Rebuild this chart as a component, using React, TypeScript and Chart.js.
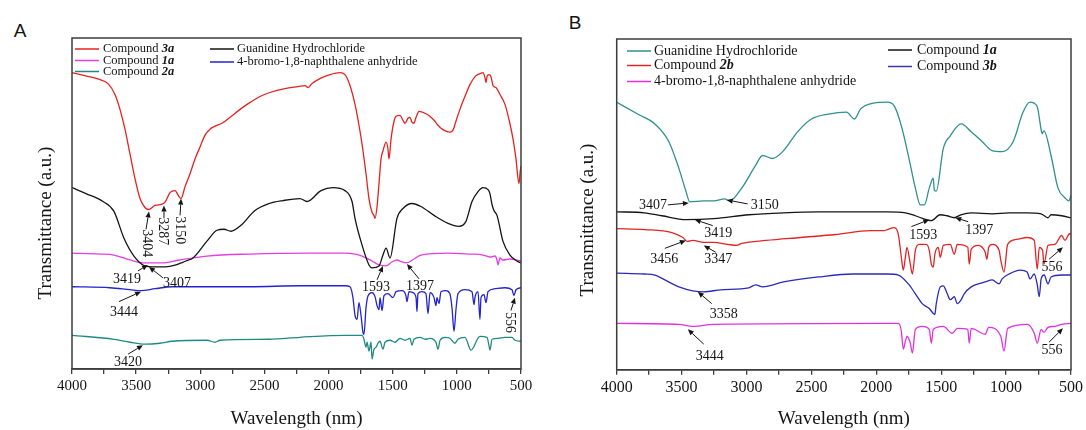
import React, { useEffect, useRef } from 'react';
import { Chart, registerables } from 'chart.js';

Chart.register(...registerables);

const SERIF = "'Liberation Serif', 'Times New Roman', Times, serif";
const SANS = "'Liberation Sans', Arial, Helvetica, sans-serif";

// ---------------- Panel A data (wavenumber, transmittance a.u.) ----------------
const aCmp3aX = [4000,3899,3782,3719,3665,3626,3587,3548,3509,3470,3431,3404,3353,3287,3267,3236,3197,3166,3150,3119,3080,3041,3002,2963,2924,2885,2831,2768,2690,2612,2535,2457,2340,2238,2184,2160,2129,2067,1989,1911,1872,1833,1794,1771,1739,1708,1685,1661,1646,1638,1622,1607,1591,1576,1552,1537,1529,1513,1490,1474,1443,1420,1404,1381,1365,1350,1334,1318,1295,1264,1233,1202,1178,1147,1124,1085,1054,1030,1007,976,937,898,851,820,796,781,773,765,750,734,718,695,664,625,594,562,539,516,508,500];
const aCmp3aY = [299,296,292,288,277,262,242,217,192,172,163,161,165,167,170,178,180,174,172,184,197,212,224,236,242,245,248,254,262,269,275,279,283,285,286,284,288,293,297,299,297,286,267,252,227,197,172,158,155,152,164,187,212,220,229,222,212,232,250,255,256,251,248,253,254,249,248,254,260,259,257,254,251,246,243,240,239,241,250,262,275,287,296,298,299,294,289,295,297,295,286,284,277,267,252,232,212,187,197,205];

const aGuanX = [4000,3891,3758,3673,3595,3517,3431,3353,3275,3189,3150,3111,3057,2948,2870,2815,2761,2683,2574,2464,2355,2223,2168,2059,1966,1872,1817,1794,1739,1685,1661,1607,1576,1552,1521,1467,1420,1350,1280,1178,1069,984,929,882,835,796,757,742,726,711,687,641,586,532,500];
const aGuanY = [183,177,169,159,132,114,104,103,103,105,107,109,112,129,140,141,139,145,160,167,170,172,169,180,183,180,169,152,125,105,102,104,115,122,112,152,162,167,164,155,147,144,149,169,179,183,181,177,166,160,155,129,115,109,107];

const aCmp1aX = [4000,3782,3673,3548,3431,3298,3166,2948,2612,2145,1872,1794,1739,1661,1607,1552,1506,1467,1428,1389,1334,1280,1069,898,796,742,703,687,679,664,641,586,500];
const aCmp1aY = [117,116,115,110,107,107,110,114,116,117,117,116,114,109,105,104,108,110,108,107,111,115,117,116,115,113,114,110,105,112,110,111,109];

const aBromoX = [4000,3704,3548,3462,3353,3220,2612,2223,1872,1833,1810,1794,1778,1763,1747,1732,1724,1708,1692,1661,1638,1622,1607,1599,1583,1568,1537,1498,1474,1428,1397,1389,1373,1342,1318,1311,1303,1272,1241,1225,1209,1178,1163,1155,1139,1124,1085,1054,1038,1022,1007,991,937,882,866,859,835,820,812,788,773,757,703,625,570,555,539,500];
const aBromoY = [83,82,80,79,81,83,83,84,84,83,72,54,50,67,54,37,35,62,74,77,73,64,60,72,59,74,76,72,78,79,74,68,78,77,72,58,76,78,76,56,77,72,64,72,66,78,79,76,62,38,60,76,80,78,65,72,78,50,72,75,67,78,81,82,80,74,80,82];

const aCmp2aX = [4000,3673,3548,3431,3314,3220,2948,2885,2846,2464,2223,1872,1739,1724,1708,1700,1685,1669,1661,1646,1630,1615,1599,1576,1560,1521,1482,1443,1404,1365,1350,1334,1287,1248,1209,1163,1147,1131,1092,1054,1015,991,937,890,820,765,750,742,726,679,625,570,547,500];
const aCmp2aY = [34,30,27,25,26,28,29,27,29,30,32,34,34,30,22,27,18,27,10,20,22,26,28,20,27,29,27,31,29,31,24,30,32,30,31,27,20,29,32,31,26,30,32,19,33,32,24,19,30,31,32,32,29,28];

// ---------------- Panel B data ----------------
const bGuanX = [4000,3839,3706,3598,3521,3467,3437,3329,3252,3168,3130,3037,2930,2876,2799,2714,2607,2499,2368,2230,2168,2122,2022,1915,1861,1807,1753,1699,1661,1630,1592,1561,1553,1538,1484,1430,1346,1269,1184,1108,1031,946,869,816,762,731,723,708,654,600,546,516,500];
const bGuanY = [271,259,249,231,204,181,170,171,171,173,171,184,207,217,214,222,241,254,259,261,254,264,270,271,267,247,217,184,167,167,184,194,182,181,224,237,249,241,231,222,221,231,261,271,267,244,239,242,217,184,174,171,177];

const bCmp1aX = [4000,3786,3652,3467,3252,2983,2714,2445,2179,1915,1776,1699,1614,1576,1509,1456,1399,1349,1269,1107,977,838,731,677,654,572,500];
const bCmp1aY = [160,159,156,152,153,157,159,160,160,160,159,156,152,151,157,156,154,157,159,158,159,159,158,154,157,156,154];

const bCmp2bX = [4000,3786,3575,3490,3456,3413,3329,3252,3144,3075,3037,2849,2584,2315,2046,1938,1915,1861,1830,1807,1792,1776,1764,1738,1722,1699,1669,1615,1592,1576,1561,1549,1523,1507,1484,1430,1399,1376,1295,1284,1269,1215,1161,1148,1134,1107,1054,1041,1016,988,920,836,783,760,744,719,708,677,625,572,546,518,500];
const bCmp2bY = [143,142,139,134,130,131,129,129,127,126,128,131,134,137,141,141,142,144,137,114,101,114,124,107,97,121,127,127,121,107,104,117,124,114,126,127,117,127,124,107,122,126,119,112,124,127,121,111,99,127,132,134,131,102,124,121,107,126,127,136,131,137,138];

const bCmp3bX = [4000,3786,3706,3629,3521,3413,3329,3198,2983,2929,2876,2714,2445,2179,1915,1830,1753,1699,1646,1592,1561,1549,1538,1507,1484,1453,1430,1399,1376,1346,1323,1269,1215,1161,1107,1054,1031,977,892,838,815,784,761,745,730,707,677,654,572,500];
const bCmp3bY = [98,97,96,91,84,80,79,81,83,86,84,89,94,97,97,96,87,77,67,62,57,56,67,84,85,77,71,74,67,71,77,84,87,89,91,87,92,97,101,99,92,97,87,74,92,96,87,94,96,96];

const bBromoX = [4000,3521,3413,3252,1915,1830,1807,1792,1776,1764,1738,1722,1699,1646,1592,1576,1561,1484,1415,1376,1295,1284,1269,1161,1134,1041,1016,988,836,783,760,730,708,677,625,572,500];
const bBromoY = [47,46,44,46,47,47,39,21,29,34,27,17,41,44,41,27,41,44,37,42,41,27,42,36,43,34,19,42,46,37,27,41,38,43,44,46,47];

// ---------------- tick labels / axis range ----------------
const xMin = 500;
const xMax = 4000;
const xStep = 250;
const xLabelStep = 500;

type Series = { label: string; x: number[]; y: number[]; color: string };
type LegendItem = { main: string; emph: string; color: string; sx: number; tx: number; y: number };
type Note = { t: string; lx: number; ly: number; x0: number; y0: number; x1: number; y1: number; rot?: boolean };

const seriesA: Series[] = [
  { label: 'Guanidine Hydrochloride', x: aGuanX, y: aGuanY, color: '#141414' },
  { label: 'Compound 1a', x: aCmp1aX, y: aCmp1aY, color: '#e33ee3' },
  { label: 'Compound 3a', x: aCmp3aX, y: aCmp3aY, color: '#e4231f' },
  { label: '4-bromo-1,8-naphthalene anhydride', x: aBromoX, y: aBromoY, color: '#2323cf' },
  { label: 'Compound 2a', x: aCmp2aX, y: aCmp2aY, color: '#1f8a82' },
];

const seriesB: Series[] = [
  { label: 'Guanidine Hydrochloride', x: bGuanX, y: bGuanY, color: '#2e9090' },
  { label: 'Compound 1a', x: bCmp1aX, y: bCmp1aY, color: '#141414' },
  { label: 'Compound 2b', x: bCmp2bX, y: bCmp2bY, color: '#e22424' },
  { label: 'Compound 3b', x: bCmp3bX, y: bCmp3bY, color: '#2a2abb' },
  { label: '4-bromo-1,8-naphthalene anhydride', x: bBromoX, y: bBromoY, color: '#e030e0' },
];

const legendA: LegendItem[] = [
  { main: 'Compound ', emph: '3a', color: '#e4231f', sx: 75, tx: 103, y: 49 },
  { main: 'Compound ', emph: '1a', color: '#e33ee3', sx: 75, tx: 103, y: 60.5 },
  { main: 'Compound ', emph: '2a', color: '#1f8a82', sx: 75, tx: 103, y: 71.5 },
  { main: 'Guanidine Hydrochloride', emph: '', color: '#141414', sx: 210, tx: 237, y: 49 },
  { main: '4-bromo-1,8-naphthalene anhydride', emph: '', color: '#2323cf', sx: 210, tx: 237, y: 62 },
];

const legendB: LegendItem[] = [
  { main: 'Guanidine Hydrochloride', emph: '', color: '#2e9090', sx: 84, tx: 111, y: 51 },
  { main: 'Compound ', emph: '2b', color: '#e22424', sx: 84, tx: 111, y: 65.5 },
  { main: '4-bromo-1,8-naphthalene anhydride', emph: '', color: '#e030e0', sx: 84, tx: 111, y: 81.5 },
  { main: 'Compound ', emph: '1a', color: '#141414', sx: 345, tx: 374, y: 50 },
  { main: 'Compound ', emph: '3b', color: '#3a3aa8', sx: 345, tx: 374, y: 66.5 },
];

const notesA: Note[] = [
  { t: '3404', lx: 3419, ly: 127, x0: 3423, y0: 141, x1: 3400, y1: 159, rot: true },
  { t: '3287', lx: 3291, ly: 139, x0: 3283, y0: 152, x1: 3283, y1: 165, rot: true },
  { t: '3150', lx: 3162, ly: 140, x0: 3158, y0: 155, x1: 3150, y1: 172, rot: true },
  { t: '3419', lx: 3571, ly: 90, x0: 3486, y0: 99, x1: 3408, y1: 105 },
  { t: '3407', lx: 3182, ly: 86, x0: 3291, y0: 92, x1: 3400, y1: 103 },
  { t: '1593', lx: 1630, ly: 82, x0: 1622, y0: 90, x1: 1576, y1: 104 },
  { t: '1397', lx: 1287, ly: 83, x0: 1295, y0: 91, x1: 1389, y1: 106 },
  { t: '3444', lx: 3595, ly: 57, x0: 3634, y0: 68, x1: 3462, y1: 78 },
  { t: '556', lx: 586, ly: 47, x0: 578, y0: 59, x1: 547, y1: 72, rot: true },
  { t: '3420', lx: 3563, ly: 7, x0: 3563, y0: 15, x1: 3447, y1: 24 },
];

const notesB: Note[] = [
  { t: '3407', lx: 3721, ly: 167, x0: 3606, y0: 167, x1: 3444, y1: 169 },
  { t: '3150', lx: 2860, ly: 167, x0: 2991, y0: 168, x1: 3152, y1: 172 },
  { t: '3419', lx: 3217, ly: 138, x0: 3260, y0: 146, x1: 3398, y1: 152 },
  { t: '1593', lx: 1638, ly: 136, x0: 1730, y0: 145, x1: 1592, y1: 152 },
  { t: '1397', lx: 1207, ly: 141, x0: 1292, y0: 150, x1: 1392, y1: 154 },
  { t: '3456', lx: 3633, ly: 112, x0: 3629, y0: 123, x1: 3467, y1: 131 },
  { t: '3347', lx: 3217, ly: 112, x0: 3237, y0: 119, x1: 3329, y1: 126 },
  { t: '556', lx: 646, ly: 104, x0: 669, y0: 112, x1: 562, y1: 124 },
  { t: '3358', lx: 3175, ly: 56, x0: 3268, y0: 67, x1: 3375, y1: 79 },
  { t: '3444', lx: 3283, ly: 14, x0: 3329, y0: 26, x1: 3452, y1: 41 },
  { t: '556', lx: 646, ly: 20, x0: 669, y0: 28, x1: 562, y1: 42 },
];

const overlayPlugin = {
  id: 'overlay',
  afterDraw(chart: any, _args: any, opts: any) {
    const { ctx, chartArea: a, scales } = chart;
    const xs = scales.x;
    const ys = scales.y;
    ctx.save();
    // frame
    ctx.strokeStyle = '#3c3c3c';
    ctx.lineWidth = 1.5;
    ctx.strokeRect(a.left, a.top, a.right - a.left, a.bottom - a.top);

    // legend
    const lf = opts.legendFont;
    ctx.textBaseline = 'middle';
    ctx.textAlign = 'left';
    for (const it of opts.legend as LegendItem[]) {
      ctx.strokeStyle = it.color;
      ctx.lineWidth = 1.5;
      ctx.beginPath();
      ctx.moveTo(it.sx, it.y);
      ctx.lineTo(it.sx + 24, it.y);
      ctx.stroke();
      ctx.fillStyle = '#151515';
      ctx.font = `${lf}px ${SERIF}`;
      ctx.fillText(it.main, it.tx, it.y);
      if (it.emph) {
        const w = ctx.measureText(it.main).width;
        ctx.font = `italic bold ${lf}px ${SERIF}`;
        ctx.fillText(it.emph, it.tx + w, it.y);
      }
    }

    // annotations
    ctx.font = `${opts.noteFont}px ${SERIF}`;
    ctx.fillStyle = '#151515';
    ctx.strokeStyle = '#151515';
    ctx.lineWidth = 1;
    for (const n of opts.notes as Note[]) {
      const lx = xs.getPixelForValue(n.lx);
      const ly = ys.getPixelForValue(n.ly);
      ctx.save();
      ctx.translate(lx, ly);
      if (n.rot) ctx.rotate(Math.PI / 2);
      ctx.textAlign = 'center';
      ctx.textBaseline = 'middle';
      ctx.fillText(n.t, 0, 0);
      ctx.restore();
      const px0 = xs.getPixelForValue(n.x0);
      const py0 = ys.getPixelForValue(n.y0);
      const px1 = xs.getPixelForValue(n.x1);
      const py1 = ys.getPixelForValue(n.y1);
      const ang = Math.atan2(py1 - py0, px1 - px0);
      const hl = 6;
      const hw = 2.6;
      const bx = px1 - hl * Math.cos(ang);
      const by = py1 - hl * Math.sin(ang);
      ctx.beginPath();
      ctx.moveTo(px0, py0);
      ctx.lineTo(bx, by);
      ctx.stroke();
      ctx.beginPath();
      ctx.moveTo(px1, py1);
      ctx.lineTo(bx + hw * Math.sin(ang), by - hw * Math.cos(ang));
      ctx.lineTo(bx - hw * Math.sin(ang), by + hw * Math.cos(ang));
      ctx.closePath();
      ctx.fill();
    }

    // y title
    ctx.font = `19px ${SERIF}`;
    ctx.fillStyle = '#151515';
    ctx.translate(opts.yTitleX, opts.yTitleY);
    ctx.rotate(-Math.PI / 2);
    ctx.textAlign = 'center';
    ctx.textBaseline = 'middle';
    ctx.fillText('Transmittance (a.u.)', 0, 0);
    ctx.restore();
  },
};

function buildConfig(p: {
  series: Series[];
  legend: LegendItem[];
  notes: Note[];
  legendFont: number;
  noteFont: number;
  tickFont: number;
  yMax: number;
  pad: { left: number; right: number; top: number; bottom: number };
  titlePadTop: number;
  yTitleX: number;
  yTitleY: number;
}): any {
  return {
    type: 'line',
    data: {
      datasets: p.series.map((s) => ({
        label: s.label,
        data: s.x.map((xv, i) => ({ x: xv, y: s.y[i] })),
        borderColor: s.color,
        backgroundColor: s.color,
        borderWidth: 1.3,
        pointRadius: 0,
        fill: false,
        cubicInterpolationMode: 'monotone',
      })),
    },
    options: {
      responsive: false,
      animation: false,
      events: [],
      layout: { padding: p.pad },
      plugins: {
        legend: { display: false },
        tooltip: { enabled: false },
        overlay: {
          legend: p.legend,
          notes: p.notes,
          legendFont: p.legendFont,
          noteFont: p.noteFont,
          yTitleX: p.yTitleX,
          yTitleY: p.yTitleY,
        },
      },
      scales: {
        x: {
          type: 'linear',
          reverse: true,
          min: xMin,
          max: xMax,
          border: { display: true, color: '#3c3c3c', width: 1.5 },
          grid: { display: true, drawOnChartArea: false, drawTicks: true, tickLength: 5, color: '#3c3c3c', lineWidth: 1.3 },
          ticks: {
            stepSize: xStep,
            autoSkip: false,
            maxRotation: 0,
            padding: 3,
            color: '#151515',
            font: { family: SERIF, size: p.tickFont },
            callback: (v: number) => (v % xLabelStep === 0 ? String(v) : ''),
          },
          title: {
            display: true,
            text: 'Wavelength (nm)',
            color: '#151515',
            font: { family: SERIF, size: 19 },
            padding: { top: p.titlePadTop, bottom: 0 },
          },
        },
        y: { display: false, min: 0, max: p.yMax },
      },
    },
    plugins: [overlayPlugin],
  };
}

export default function App() {
  const refA = useRef<HTMLCanvasElement | null>(null);
  const refB = useRef<HTMLCanvasElement | null>(null);

  useEffect(() => {
    const ca = new Chart(
      refA.current as HTMLCanvasElement,
      buildConfig({
        series: seriesA,
        legend: legendA,
        notes: notesA,
        legendFont: 12.5,
        noteFont: 14,
        tickFont: 15,
        yMax: 334,
        pad: { left: 72, right: 22, top: 38, bottom: 0 },
        titlePadTop: 9.2,
        yTitleX: 46.5,
        yTitleY: 223,
      })
    );
    const cb = new Chart(
      refB.current as HTMLCanvasElement,
      buildConfig({
        series: seriesB,
        legend: legendB,
        notes: notesB,
        legendFont: 14,
        noteFont: 14,
        tickFont: 16,
        yMax: 335,
        pad: { left: 73.7, right: 14, top: 39, bottom: 0 },
        titlePadTop: 7.2,
        yTitleX: 45,
        yTitleY: 220,
      })
    );
    return () => {
      ca.destroy();
      cb.destroy();
    };
  }, []);

  return (
    <div style={{ position: 'fixed', left: 0, top: 0, width: 1086, height: 430, background: '#fff', overflow: 'hidden' }}>
      <div style={{ position: 'absolute', left: 10, top: 20, width: 20, height: 24, lineHeight: '24px', textAlign: 'center', font: `19px ${SANS}`, color: '#151515' }}>A</div>
      <div style={{ position: 'absolute', left: 565, top: 12, width: 20, height: 24, lineHeight: '24px', textAlign: 'center', font: `19px ${SANS}`, color: '#151515' }}>B</div>
      <canvas ref={refA} width={543} height={430} style={{ position: 'absolute', left: 0, top: 0 }} />
      <canvas ref={refB} width={543} height={430} style={{ position: 'absolute', left: 543, top: 0 }} />
    </div>
  );
}
